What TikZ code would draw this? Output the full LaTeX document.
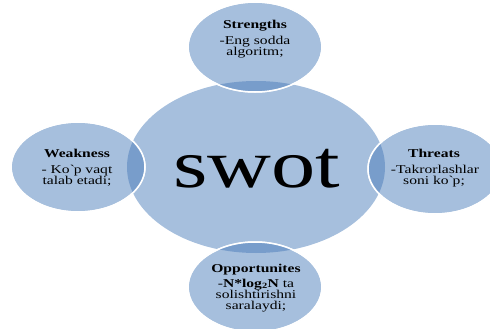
\documentclass[tikz,border=0pt]{standalone}
\usepackage{fontspec}
\setmainfont{Liberation Serif}
\newfontfamily\wide{Liberation Serif}[FakeStretch=1.3]
\definecolor{lightb}{RGB}{166,191,221}
\definecolor{darkb}{RGB}{120,157,203}
\tikzset{
  ttl/.style={font=\wide\bfseries\fontsize{12}{12}\selectfont, anchor=base, inner sep=0pt},
  body/.style={font=\wide\fontsize{12}{12}\selectfont, anchor=base, inner sep=0pt},
  sat/.style={fill=lightb, draw=white, line width=1.5pt}
}
\begin{document}
\begin{tikzpicture}[x=1pt,y=-1pt]
\useasboundingbox (0,0) rectangle (490,329);
\clip (0,0) rectangle (490,329);
% central
\fill[lightb] (256,167) ellipse [x radius=129, y radius=86];
% satellites
\def\satlist{255/47, 78/167, 435/169, 255/287}
\foreach \cx/\cy in \satlist {
  \path[sat] (\cx,\cy) ellipse [x radius=67, y radius=45];
  \begin{scope}
    \clip (\cx,\cy) ellipse [x radius=67, y radius=45];
    \fill[darkb] (256,167) ellipse [x radius=129, y radius=86];
  \end{scope}
  \draw[white, line width=1.5pt] (\cx,\cy) ellipse [x radius=67, y radius=45];
}
% texts
\node[font=\wide\fontsize{68}{68}\selectfont, anchor=base, inner sep=0pt] (swot) at (257,187) {swot};
\node[ttl] (st) at (255,29) {Strengths};
\node[body] (s1) at (255,45) {-Eng sodda};
\node[body] (s2) at (255,56) {algoritm;};
\node[ttl] (wt) at (77,157) {Weakness};
\node[body] (w1) at (77,173) {- Ko\textasciigrave p vaqt};
\node[body] (w2) at (77,184) {talab etadi;};
\node[ttl] (tt) at (434,157) {Threats};
\node[body] (t1) at (435,173) {-Takrorlashlar};
\node[body] (t2) at (434,184) {soni ko\textasciigrave p;};
\node[ttl] (ot) at (256,272) {Opportunites};
\node[body] (o1) at (256,287) {-\textbf{N*log\textsubscript{2}N} ta};
\node[body] (o2) at (256,298.5) {solishtirishni};
\node[body] (o3) at (256,309.5) {saralaydi;};
\end{tikzpicture}
\end{document}
